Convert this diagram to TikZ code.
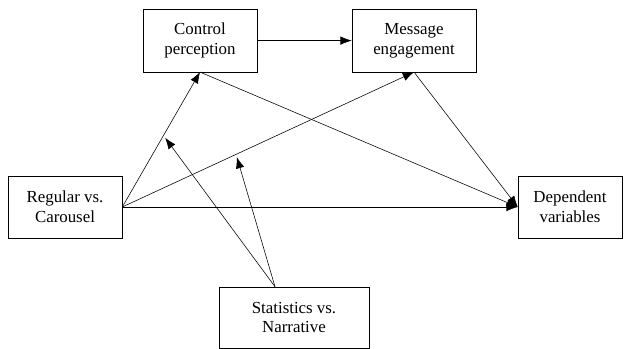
\documentclass[tikz,border=0pt]{standalone}
\usepackage{fontspec}
\setmainfont{Liberation Serif}
\usetikzlibrary{arrows.meta,calc}
\tikzset{
    -{Latex[length=8pt,width=6pt]},line width=0.7pt,
    box/.style ={rectangle, draw, align=center, inner sep=2pt,
        minimum height=1.56cm, font=\fontsize{12pt}{14pt}\selectfont},
    link/.style = {shorten >=2pt}
}
\begin{document}
\begin{tikzpicture}
      \useasboundingbox (0,0) rectangle (15.6,8.725);
      \node[box, minimum width=2.85cm] (CP) at (5.0,7.71) {Control\\perception};
      \node[box, minimum width=3.1cm] (ME) at (10.35,7.71) {Message\\engagement};
      \node[box, minimum width=2.85cm] (RC) at (1.625,3.55) {Regular vs.\\Carousel};
      \node[box, minimum width=2.6cm] (DV) at (14.25,3.55) {Dependent\\variables};
      \node[box, minimum width=3.75cm, minimum height=1.52cm] (SN) at (7.35,0.79) {Statistics vs.\\Narrative};
      \coordinate (S) at ([xshift=-0.475cm]SN.north);

      \draw (CP) -- (ME);
      \draw (RC.east) -- coordinate[pos=0.53] (a1) (CP.south);
      \draw (RC.east) -- coordinate[pos=0.39] (a2) (ME.south);
      \draw (RC.east) -- (DV.west);
      \draw (CP.south) -- (DV.west);
      \draw (ME.south) -- (DV.west);
      \draw[link] (S) -- (a1);
      \draw[link] (S) -- (a2);
    \end{tikzpicture}
\end{document}
